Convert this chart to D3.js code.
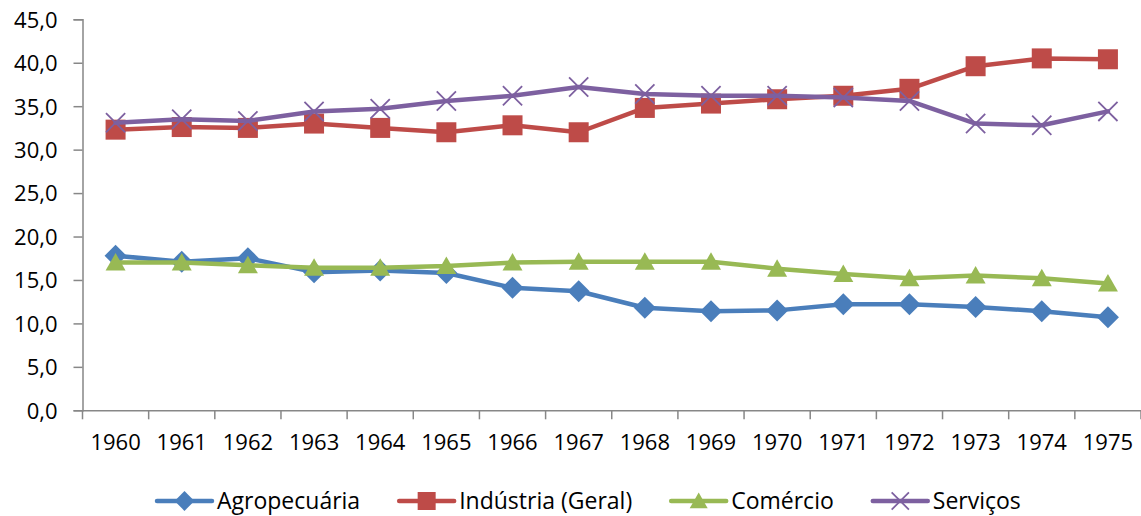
<!DOCTYPE html>
<html>
<head>
<meta charset="utf-8">
<script src="https://cdn.jsdelivr.net/npm/d3@7"></script>
<style>
  html, body { margin: 0; padding: 0; background: #fff; }
  svg { display: block; }
  text { font-family: "Open Sans", "Noto Sans", sans-serif; fill: #000; }
</style>
</head>
<body>
<svg id="chart" width="1141" height="516"></svg>
<script>
const years = ["1960","1961","1962","1963","1964","1965","1966","1967","1968","1969","1970","1971","1972","1973","1974","1975"];
const agropecuaria = [17.8, 17.1, 17.5, 15.9, 16.1, 15.8, 14.1, 13.7, 11.8, 11.4, 11.5, 12.2, 12.2, 11.9, 11.4, 10.7];
const industria    = [32.3, 32.6, 32.5, 33.0, 32.5, 32.0, 32.8, 32.0, 34.8, 35.3, 35.8, 36.2, 37.0, 39.6, 40.5, 40.4];
const comercio     = [17.0, 17.0, 16.7, 16.4, 16.4, 16.6, 17.0, 17.1, 17.1, 17.1, 16.3, 15.7, 15.2, 15.5, 15.2, 14.6];
const servicos     = [33.1, 33.5, 33.3, 34.4, 34.7, 35.6, 36.2, 37.2, 36.4, 36.2, 36.2, 36.0, 35.6, 33.0, 32.8, 34.4];
const yTicks = [0, 5, 10, 15, 20, 25, 30, 35, 40, 45];
const seriesNames = ["Agropecuária", "Indústria (Geral)", "Comércio", "Serviços"];

const series = [
  { name: seriesNames[0], values: agropecuaria, color: "#4A7EBB", marker: "diamond" },
  { name: seriesNames[1], values: industria,    color: "#BE4B48", marker: "square" },
  { name: seriesNames[2], values: comercio,     color: "#98B954", marker: "triangle" },
  { name: seriesNames[3], values: servicos,     color: "#7D60A0", marker: "x" }
];

const svg = d3.select("#chart");
const fontSize = 22;
const legendFontSize = 23;
const axisColor = "#878787";

const x = d3.scaleBand().domain(years).range([82.5, 1141]).paddingInner(0).paddingOuter(0);
const y = d3.scaleLinear().domain([0, 45]).range([410.3, 19.3]);

const locale = d3.formatLocale({ decimal: ",", thousands: ".", grouping: [3], currency: ["", ""] });
const fmt = locale.format(".1f");

// Y axis
const yAxis = svg.append("g")
  .attr("transform", `translate(${x.range()[0]},0)`)
  .call(d3.axisLeft(y).tickValues(yTicks).tickFormat(fmt).tickSize(9).tickPadding(16));
yAxis.select(".domain").attr("stroke", axisColor).attr("stroke-width", 1.5);
yAxis.selectAll(".tick line").attr("stroke", axisColor).attr("stroke-width", 1.5);
yAxis.selectAll(".tick text").attr("font-size", fontSize).attr("font-family", "'Open Sans', sans-serif").attr("fill", "#000").attr("dy", "0.36em");

// X axis: ticks at band boundaries
const xAxis = svg.append("g")
  .attr("transform", `translate(0,${y(0)})`)
  .call(d3.axisBottom(x).tickSize(0).tickPadding(24));
xAxis.select(".domain").attr("stroke", axisColor).attr("stroke-width", 1.5);
xAxis.selectAll(".tick text").attr("font-size", fontSize).attr("font-family", "'Open Sans', sans-serif").attr("fill", "#000").attr("dy", "0.71em");
const boundaries = years.map(d => x(d)).concat([x(years[years.length - 1]) + x.bandwidth()]);
xAxis.selectAll(".btick").data(boundaries).enter().append("line")
  .attr("class", "btick")
  .attr("x1", d => d).attr("x2", d => d)
  .attr("y1", 0).attr("y2", 9)
  .attr("stroke", axisColor).attr("stroke-width", 1.5);

const cx = d => x(d) + x.bandwidth() / 2;

function drawMarker(g, type, color, px, py, s) {
  if (type === "diamond") {
    const r = s * 0.55;
    g.append("path").attr("d", `M${px},${py - r}L${px + r},${py}L${px},${py + r}L${px - r},${py}Z`).attr("fill", color);
  } else if (type === "square") {
    const h = s * 0.5;
    g.append("rect").attr("x", px - h).attr("y", py - h).attr("width", 2 * h).attr("height", 2 * h).attr("fill", color);
  } else if (type === "triangle") {
    const h = s * 0.5;
    g.append("path").attr("d", `M${px},${py - h * 0.95}L${px + h},${py + h * 0.8}L${px - h},${py + h * 0.8}Z`).attr("fill", color);
  } else if (type === "x") {
    const h = s * 0.48;
    g.append("path").attr("d", `M${px - h},${py - h}L${px + h},${py + h}M${px - h},${py + h}L${px + h},${py - h}`)
      .attr("stroke", color).attr("stroke-width", 1.8).attr("fill", "none");
  }
}

const line = d3.line().x((d, i) => cx(years[i])).y(d => y(d));

series.forEach(s => {
  const g = svg.append("g");
  g.append("path").datum(s.values).attr("d", line)
    .attr("fill", "none").attr("stroke", s.color).attr("stroke-width", 4.5)
    .attr("stroke-linejoin", "round").attr("stroke-linecap", "round");
  s.values.forEach((v, i) => drawMarker(g, s.marker, s.color, cx(years[i]), y(v), 20));
});

// Legend
const legend = svg.append("g");
let lx = 157;
const ly = 501;
series.forEach(s => {
  const g = legend.append("g");
  g.append("line").attr("x1", lx).attr("x2", lx + 55).attr("y1", ly).attr("y2", ly)
    .attr("stroke", s.color).attr("stroke-width", 4.5).attr("stroke-linecap", "round");
  drawMarker(g, s.marker, s.color, lx + 27.5, ly, 18);
  const t = g.append("text").attr("x", lx + 60).attr("y", ly).attr("dy", "0.36em")
    .attr("font-size", legendFontSize).text(s.name);
  lx += 60 + t.node().getComputedTextLength() + 39;
});
</script>
</body>
</html>
